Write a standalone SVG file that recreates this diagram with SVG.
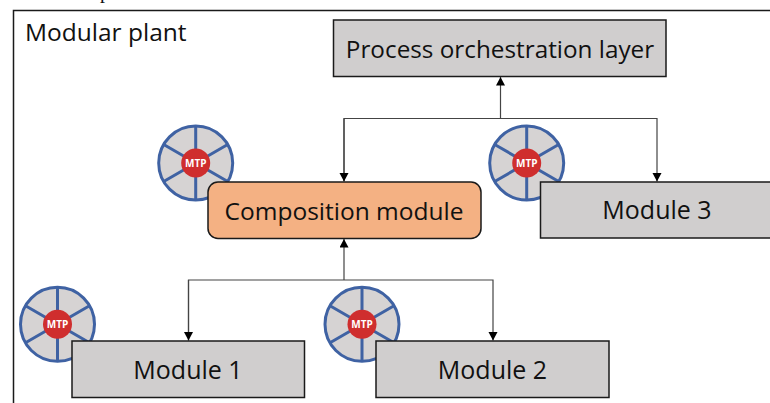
<svg xmlns="http://www.w3.org/2000/svg" width="770" height="403" viewBox="0 0 770 403">
<style>
text{font-family:"Open Sans","Noto Sans","Liberation Sans",sans-serif;fill:#111}
.box{fill:#d0cece;stroke:#1a1a1a;stroke-width:1.5}
.lbl{font-size:24.5px;text-anchor:middle}
.wire{fill:none;stroke:#444;stroke-width:1.2}
.rim{fill:#d6d3d3;stroke:#3f62a3;stroke-width:3}
.spoke{stroke:#3f62a3;stroke-width:3}
.hub{fill:#cf2e2e}
.mtp{font-size:10px;font-weight:700;fill:#fff;text-anchor:middle;font-family:"Open Sans","Liberation Sans",sans-serif}
</style>
<defs>
<marker id="ah" markerUnits="userSpaceOnUse" markerWidth="10" markerHeight="10" refX="8.500" refY="4.500" orient="auto"><path d="M0 0L8.500 4.500L0 9Z" fill="#000"/></marker>
<g id="wheel">
<circle class="rim" r="37"/>
<path class="spoke" d="M0-37V37M-32-18.500L32 18.500M-32 18.500L32-18.500"/>
<circle class="hub" r="14.500"/>
<text class="mtp" y="3.500">MTP</text>
</g>
</defs>
<rect width="770" height="403" fill="#fff"/>
<text x="100" y="-2" style="font-family:'Liberation Serif',serif;font-size:20px">p</text>
<path id="frame" d="M13.500 403V10.500H770" fill="none" stroke="#1a1a1a" stroke-width="1.500"/>
<text x="25" y="41" style="font-size:24.500px">Modular plant</text>
<g id="connectors">
<path class="wire" d="M500.500 118.500V77" marker-end="url(#ah)"/>
<path class="wire" d="M344 181V118.500H657V181.500" marker-end="url(#ah)"/>
<path class="wire" d="M344 118.500V181.500" marker-end="url(#ah)"/>
<path class="wire" d="M344 280V239" marker-end="url(#ah)"/>
<path class="wire" d="M188.500 340.500V280H493V340.500" marker-end="url(#ah)"/>
<path class="wire" d="M188.500 280V340.500" marker-end="url(#ah)"/>
</g>
<g id="process"><rect class="box" x="333.500" y="20" width="332.500" height="56.500"/><text class="lbl" x="500" y="58" style="font-size:24.300px">Process orchestration layer</text></g>
<g id="mtp-composition"><use href="#wheel" x="195.700" y="163"/></g>
<g id="composition"><rect x="208" y="182" width="273" height="56.500" rx="10" fill="#f4b183" stroke="#1a1a1a" stroke-width="1.500"/><text class="lbl" x="344" y="220">Composition module</text></g>
<g id="mtp-3"><use href="#wheel" x="526.700" y="163"/></g>
<g id="module3"><rect class="box" x="540.500" y="182" width="240" height="56"/><text class="lbl" x="657" y="219" style="font-size:25px">Module 3</text></g>
<g id="mtp-1"><use href="#wheel" x="57.500" y="324.300"/></g>
<g id="module1"><rect class="box" x="72" y="341" width="232.500" height="56.500"/><text class="lbl" x="188" y="379" style="font-size:25px">Module 1</text></g>
<g id="mtp-2"><use href="#wheel" x="362" y="324.300"/></g>
<g id="module2"><rect class="box" x="376" y="341" width="233" height="56.500"/><text class="lbl" x="492.500" y="379" style="font-size:25px">Module 2</text></g>
</svg>
